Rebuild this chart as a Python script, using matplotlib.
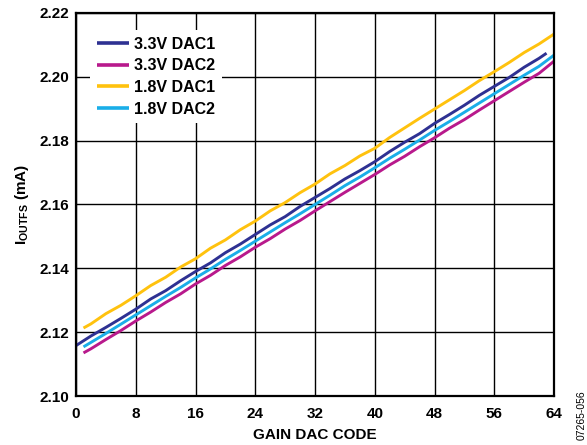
import matplotlib
matplotlib.use("Agg")
import matplotlib.pyplot as plt

plt.rcParams['font.family'] = ['Liberation Sans', 'DejaVu Sans']
plt.rcParams['mathtext.fontset'] = 'custom'
plt.rcParams['mathtext.rm'] = 'Liberation Sans:bold'
plt.rcParams['mathtext.default'] = 'rm'

# ---- data ----
codes_a = [1, 2, 4, 6, 8, 10, 12, 14, 16, 18, 20, 22, 24, 26, 28, 30, 32,
           34, 36, 38, 40, 42, 44, 46, 48, 50, 52, 54, 56, 58, 60, 62, 64]
codes_b = [0, 2, 4, 6, 8, 10, 12, 14, 16, 18, 20, 22, 24, 26, 28, 30, 32,
           34, 36, 38, 40, 42, 44, 46, 48, 50, 52, 54, 56, 58, 60, 62, 63]

dac1_33 = [2.1158, 2.1188, 2.1215, 2.1243, 2.1272, 2.1304, 2.1330, 2.1361,
           2.1390, 2.1417, 2.1449, 2.1476, 2.1506, 2.1536, 2.1562, 2.1594,
           2.1622, 2.1650, 2.1680, 2.1706, 2.1734, 2.1766, 2.1795, 2.1822,
           2.1854, 2.1882, 2.1911, 2.1942, 2.1970, 2.1998, 2.2030, 2.2058,
           2.2074]
dac2_33 = [2.1135, 2.1148, 2.1177, 2.1205, 2.1235, 2.1263, 2.1293, 2.1320,
           2.1351, 2.1378, 2.1409, 2.1436, 2.1466, 2.1493, 2.1523, 2.1550,
           2.1580, 2.1609, 2.1638, 2.1666, 2.1694, 2.1724, 2.1751, 2.1781,
           2.1809, 2.1839, 2.1866, 2.1896, 2.1925, 2.1954, 2.1983, 2.2011,
           2.2049]
dac1_18 = [2.1213, 2.1226, 2.1258, 2.1284, 2.1314, 2.1346, 2.1372, 2.1404,
           2.1430, 2.1463, 2.1489, 2.1521, 2.1548, 2.1580, 2.1606, 2.1637,
           2.1664, 2.1696, 2.1722, 2.1752, 2.1776, 2.1810, 2.1840, 2.1870,
           2.1899, 2.1928, 2.1957, 2.1988, 2.2016, 2.2045, 2.2076, 2.2103,
           2.2134]
dac2_18 = [2.1154, 2.1168, 2.1196, 2.1225, 2.1254, 2.1283, 2.1312, 2.1340,
           2.1370, 2.1398, 2.1428, 2.1456, 2.1485, 2.1514, 2.1543, 2.1571,
           2.1600, 2.1629, 2.1659, 2.1686, 2.1715, 2.1745, 2.1773, 2.1802,
           2.1832, 2.1860, 2.1889, 2.1918, 2.1947, 2.1976, 2.2005, 2.2033,
           2.2068]

series = [
    ("3.3V DAC1", codes_b, dac1_33, "#2E3192"),
    ("3.3V DAC2", codes_a, dac2_33, "#B8198C"),
    ("1.8V DAC1", codes_a, dac1_18, "#FFC20E"),
    ("1.8V DAC2", codes_a, dac2_18, "#1AAEE8"),
]
xticks = [0, 8, 16, 24, 32, 40, 48, 56, 64]
yticks = [2.10, 2.12, 2.14, 2.16, 2.18, 2.20, 2.22]

fig = plt.figure(figsize=(5.87, 4.45), dpi=100)
ax = fig.add_axes([0.1295, 0.1101, 0.8143, 0.8607])

for label, xs, ys, col in series:
    ax.plot(xs, ys, color=col, lw=2.1, label=label, solid_capstyle='butt')

ax.set_xlim(0, 64)
ax.set_ylim(2.10, 2.22)
ax.set_xticks(xticks)
ax.set_yticks(yticks)
ax.set_xticklabels([str(t) for t in xticks])
ax.set_yticklabels([f"{t:.2f}" for t in yticks])
ax.grid(True, color='black', lw=1.0)
ax.set_axisbelow(True)
ax.tick_params(length=0, labelsize=11, pad=5)
ax.tick_params(axis='x', pad=8)
for lab in ax.get_xticklabels() + ax.get_yticklabels():
    lab.set_fontweight('bold')
for sp in ax.spines.values():
    sp.set_linewidth(1.6)
    sp.set_color('black')

ax.set_xlabel("GAIN DAC CODE", fontsize=11, fontweight='bold', labelpad=5)
ax.set_ylabel("I$_{\\mathregular{OUTFS}}$ (mA)", fontsize=11, fontweight='bold', labelpad=6)

leg = ax.legend(loc='upper left', bbox_to_anchor=(0.03, 0.955), frameon=True,
                framealpha=1, edgecolor='none', facecolor='white',
                handlelength=2.0, handletextpad=0.35, labelspacing=0.42,
                prop={'size': 11.5, 'weight': 'bold'}, borderpad=0.4,
                borderaxespad=0.0)
for line in leg.get_lines():
    line.set_linewidth(2.6)

fig.text(0.99, 0.011, "07265-056", rotation=90, fontsize=7.5, ha='center', va='bottom')

fig.savefig("out.png", dpi=100)
